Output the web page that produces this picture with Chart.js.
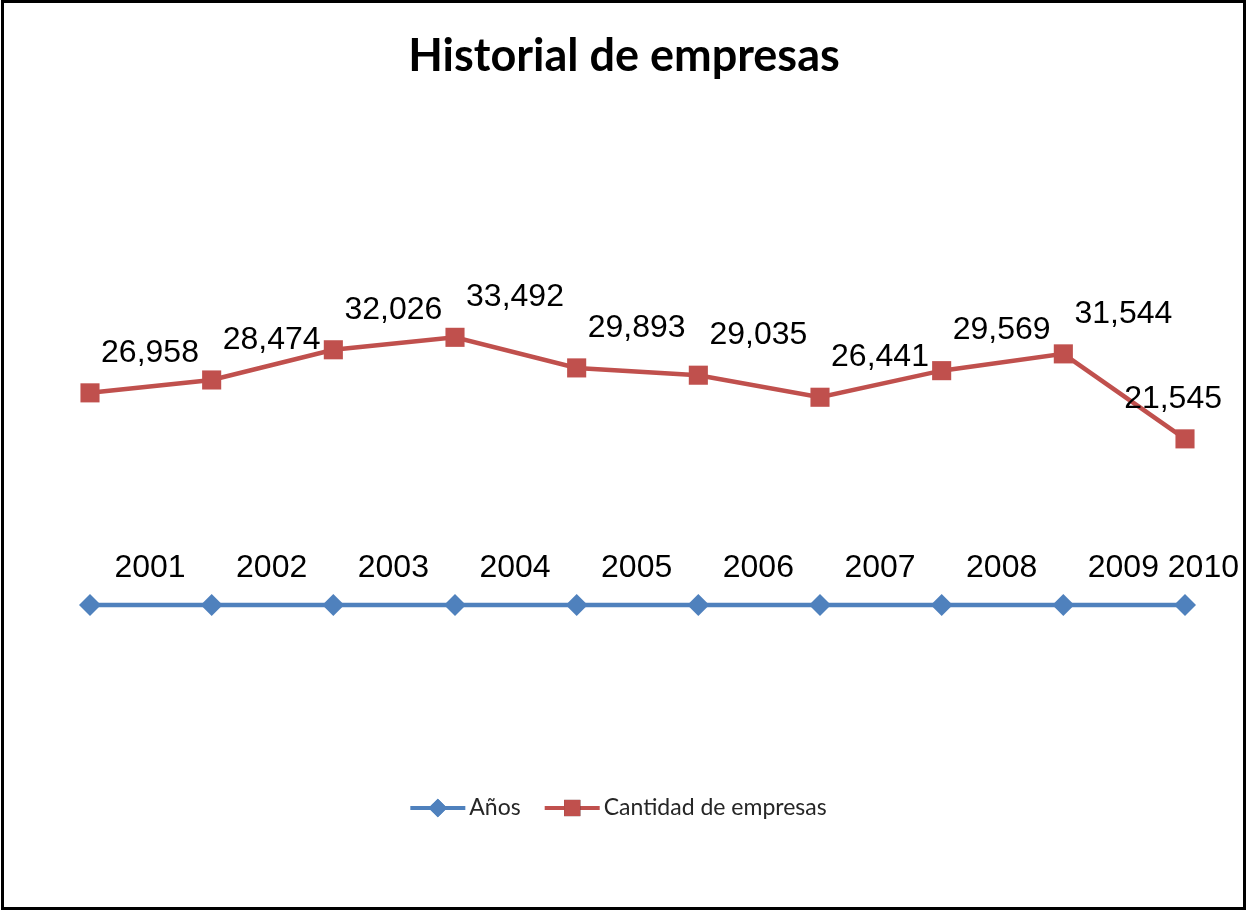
<!DOCTYPE html>
<html lang="es">
<head>
<meta charset="UTF-8">
<title>Historial de empresas</title>
<script src="https://cdn.jsdelivr.net/npm/chart.js"></script>
<style>
  html, body { margin: 0; padding: 0; background: #fff; }
  canvas { display: block; }
</style>
</head>
<body>
<canvas id="chart" width="1247" height="911"></canvas>
<script>
// Datos
const years = ['2001', '2002', '2003', '2004', '2005', '2006', '2007', '2008', '2009', '2010'];
const yearValues = [2001, 2002, 2003, 2004, 2005, 2006, 2007, 2008, 2009, 2010];
const companies = [26958, 28474, 32026, 33492, 29893, 29035, 26441, 29569, 31544, 21545];
const seriesNames = ['Años', 'Cantidad de empresas'];
const chartTitle = 'Historial de empresas';

const BLUE = '#4F81BD';
const RED = '#C0504D';

// marco exterior
const framePlugin = {
    id: 'frame',
    beforeDraw(chart) {
        const c = chart.ctx;
        c.save();
        c.fillStyle = '#fff';
        c.fillRect(0, 0, chart.width, chart.height);
        c.restore();
    },
    afterDraw(chart) {
        const c = chart.ctx;
        c.save();
        c.strokeStyle = '#000';
        c.lineWidth = 3;
        c.strokeRect(2.5, 1.5, chart.width - 5, chart.height - 4);
        c.restore();
    }
};

// titulo
const titlePlugin = {
    id: 'bigTitle',
    afterDraw(chart) {
        const c = chart.ctx;
        c.save();
        c.font = 'bold 45px Lato, "Open Sans", sans-serif';
        c.fillStyle = '#000';
        c.textAlign = 'center';
        c.textBaseline = 'alphabetic';
        c.fillText(chartTitle, 624, 71);
        c.restore();
    }
};

// etiquetas de datos (arriba a la derecha de cada punto)
const labelsPlugin = {
    id: 'pointLabels',
    afterDatasetsDraw(chart) {
        const c = chart.ctx;
        c.save();
        c.font = '32px "Liberation Sans", Arial, sans-serif';
        c.fillStyle = '#000';
        c.textAlign = 'center';
        c.textBaseline = 'middle';
        chart.data.datasets.forEach((ds, i) => {
            const meta = chart.getDatasetMeta(i);
            const dy = i === 0 ? -37 : -40;
            const maxRight = chart.width - (i === 0 ? 8 : 25);
            meta.data.forEach((pt, j) => {
                const txt = ds.fmt(ds.data[j]);
                const w = c.measureText(txt).width;
                let x = pt.x + 60;
                if (x + w / 2 > maxRight) x = maxRight - w / 2;
                c.fillText(txt, x, pt.y + dy);
            });
        });
        c.restore();
    }
};

// leyenda con linea y marcador
const legendPlugin = {
    id: 'lineLegend',
    afterDraw(chart) {
        const c = chart.ctx;
        c.save();
        c.font = '23px Lato, "Open Sans", sans-serif';
        c.textBaseline = 'middle';
        const sample = 55, gapText = 4, gapItem = 24, y = 808;
        const items = chart.data.datasets.map(ds => ({ ds, w: c.measureText(ds.label).width }));
        let total = 0;
        items.forEach((it, k) => { total += sample + gapText + it.w + (k ? gapItem : 0); });
        let x = chart.width / 2 - 5 - total / 2;
        items.forEach((it, k) => {
            if (k) x += gapItem;
            const ds = it.ds;
            c.strokeStyle = ds.borderColor;
            c.lineWidth = 4;
            c.beginPath();
            c.moveTo(x, y);
            c.lineTo(x + sample, y);
            c.stroke();
            Chart.helpers.drawPoint(c, {
                pointStyle: ds.pointStyle,
                radius: ds.pointRadius * 0.85,
                borderWidth: 0
            }, x + sample / 2, y);
            c.fillStyle = ds.borderColor;
            c.fill();
            c.fillStyle = '#262626';
            c.textAlign = 'left';
            c.fillText(ds.label, x + sample + gapText, y);
            x += sample + gapText + it.w;
        });
        c.restore();
    }
};

new Chart(document.getElementById('chart'), {
    type: 'line',
    data: {
        labels: years,
        datasets: [
            {
                label: seriesNames[0],
                data: yearValues,
                fmt: v => String(v),
                borderColor: BLUE,
                backgroundColor: BLUE,
                borderWidth: 4.5,
                pointStyle: 'rectRot',
                pointRadius: 11,
                pointHoverRadius: 11,
                pointBorderWidth: 0,
                tension: 0,
                clip: false
            },
            {
                label: seriesNames[1],
                data: companies,
                fmt: v => v.toLocaleString('en-US'),
                borderColor: RED,
                backgroundColor: RED,
                borderWidth: 4.5,
                pointStyle: 'rect',
                pointRadius: 13.5,
                pointHoverRadius: 13.5,
                pointBorderWidth: 0,
                tension: 0,
                clip: false
            }
        ]
    },
    options: {
        responsive: false,
        animation: false,
        devicePixelRatio: 1,
        layout: { padding: { left: 90, right: 62, top: 282, bottom: 289 } },
        scales: {
            x: { display: false, offset: false },
            y: { display: false, min: 0, max: 40000 }
        },
        plugins: {
            legend: { display: false },
            title: { display: false },
            tooltip: { enabled: false }
        }
    },
    plugins: [framePlugin, titlePlugin, labelsPlugin, legendPlugin]
});
</script>
</body>
</html>
